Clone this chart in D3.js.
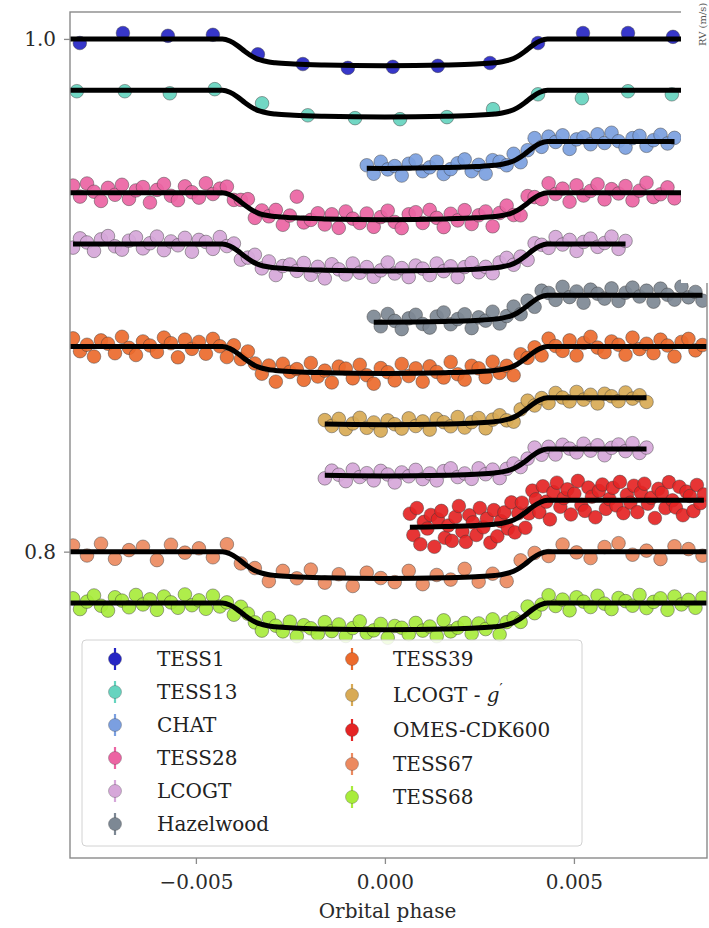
<!DOCTYPE html>
<html><head><meta charset="utf-8">
<script src="https://cdn.jsdelivr.net/npm/d3@7"></script>
<style>
html,body{margin:0;padding:0;background:#fff;}
svg{display:block;font-family:"DejaVu Serif",serif;}
</style></head><body>
<svg id="chart" width="709" height="928"></svg>
<script>
// ---------- data: phase-folded light curves (relative flux in ppt, stacked with offsets) ----------
const instruments = ["TESS1","TESS13","CHAT","TESS28","LCOGT","Hazelwood","TESS39","LCOGT - g'","OMES-CDK600","TESS67","TESS68"];
const instrumentColors = ["#2626c4","#66d4bf","#7b9fe0","#ec64a3","#d6a7d9","#7d8894","#ec6a2c","#d8aa55","#e52424","#ec8a60","#a8ec3c"];

// stacked series from top to bottom
const seriesInstrument = ["TESS1","TESS13","CHAT","TESS28","LCOGT","Hazelwood","TESS39","LCOGT - g'","LCOGT","OMES-CDK600","TESS67","TESS68"];
const seriesOffset = [0, 0.02, 0.04, 0.06, 0.08, 0.10, 0.12, 0.14, 0.16, 0.18, 0.20, 0.22];
const seriesFullModel = [true, true, false, true, false, false, true, false, false, false, true, true];
// cadence start / step in phase for evenly sampled series (null: explicit phases)
const seriesStart = [null, null, -0.00048, -0.00825, -0.00825, -0.000295, -0.00825, -0.00159, -0.00159, 0.00066, -0.00825, -0.00825];
const seriesStep  = [null, null, 0.000185, 0.000185, 0.000185, 0.000185, 0.000185, 0.000185, 0.000185, 0.0000926, 0.00037, 0.000185];

const tess1Phase = [-0.00807, -0.00693, -0.00574, -0.00455, -0.00336, -0.00217, -0.00098, 0.00021, 0.0014, 0.00278, 0.00405, 0.00524, 0.00643, 0.00762];
const tess1Ppt = [-1.6, 2.3, 1.2, 1.6, -6.0, -9.8, -11.3, -10.9, -10.5, -9.4, -1.6, 2.3, 2.3, 0.8];
const tess13Phase = [-0.00815, -0.00688, -0.00569, -0.0045, -0.00325, -0.00204, -0.00079, 0.0004, 0.00164, 0.00286, 0.00405, 0.00521, 0.00643, 0.00759];
const tess13Ppt = [-0.4, -0.4, -1.2, 0.4, -5.1, -9.8, -10.9, -11.3, -10.5, -7.4, -1.6, -3.1, -0.4, -1.6];
const chatPpt = [-9.3, -12.6, -7.9, -10.9, -9.6, -13.3, -8.7, -7.4, -11.6, -10.1, -7.9, -12.7, -10.8, -8.5, -7.0, -11.6, -9.1, -12.6, -7.3, -7.9, -9.3, -4.8, -8.1, -3.4, 1.3, -2.1, 1.9, -0.2, 2.4, -2.9, 0.8, 1.6, -1.1, 2.8, -0.6, 3.4, 0.1, -2.4, 1.3, 2.2, -1.7, 0.5, 2.6, -0.8, 1.4];
const tess28Ppt = [2.8, -1.5, 3.6, 0.4, -3.2, 1.9, -0.8, 3.1, -2.4, 0.9, 2.2, -3.8, 1.1, 3.4, -1.2, -2.9, 2.5, 0.2, -1.9, 3.7, -0.5, 1.6, 2.4, -2.8, -2.8, -2.5, -9.8, -6.9, -9.2, -6.7, -12.5, -8.9, -1.5, -11.6, -10.6, -8.0, -12.4, -8.4, -13.7, -7.3, -10.1, -11.8, -8.1, -13.3, -9.5, -7.0, -11.4, -13.8, -8.4, -7.6, -11.8, -6.7, -9.8, -13.4, -8.2, -10.8, -6.8, -12.2, -8.8, -7.3, -13.1, -7.9, -5.0, -8.7, -8.8, -1.3, -1.7, -2.5, 3.7, -0.5, 1.6, -3.5, 2.9, -1.1, 0.7, 3.3, -2.6, 1.4, -0.3, 2.6, -3.0, 0.8, 3.9, -1.7, -0.6, 2.1, -2.2];
const lcogtPpt = [-1.4, 2.2, 0.6, -2.7, 1.8, 3.1, -0.9, -2.2, 1.3, 2.6, -1.7, 0.3, 2.9, -2.4, 1.0, -0.5, 2.4, -3.0, 1.6, 0.8, -1.9, 2.7, -0.8, 0.2, -6.1, -5.3, -4.2, -9.5, -6.8, -12.1, -8.6, -8.0, -10.5, -7.4, -12.0, -8.9, -13.4, -7.9, -9.9, -11.9, -7.6, -11.2, -9.0, -12.8, -10.3, -7.2, -11.5, -9.4, -12.9, -8.4, -9.6, -12.1, -7.6, -10.6, -8.7, -12.9, -9.0, -7.4, -11.0, -8.9, -11.4, -7.2, -5.4, -8.1, -4.9, -6.2, 0.3, -0.3, -1.5, 2.7, -0.2, 1.6, -2.7, 0.8, 2.1, -1.1, 0.4, 2.9, -1.9, 1.2];
const hazelwoodPpt = [-8.4, -12.1, -7.3, -10.0, -13.2, -9.0, -7.6, -11.2, -12.6, -8.3, -6.7, -11.3, -9.3, -7.4, -12.8, -8.6, -9.9, -6.4, -11.0, -8.1, -4.4, -7.4, -2.1, -4.5, 1.8, 0.9, -1.8, 3.3, -0.7, 1.5, -2.9, 2.2, 0.6, -1.3, 2.7, -2.2, 1.0, 3.0, -0.5, 1.8, -2.5, 2.6, 0.2, -1.7, 3.4, -0.8, 1.3, -2.1];
const tess39Ppt = [3.2, -1.8, 0.7, -3.9, 2.4, 1.1, -2.6, 3.8, -0.5, -3.3, 2.0, 0.4, -2.1, 3.5, 1.3, -4.2, 2.7, -0.9, 1.8, -2.8, 3.0, 0.1, -4.1, 0.5, -4.9, -1.9, -6.6, -10.6, -7.4, -13.7, -6.7, -9.9, -8.8, -13.0, -6.4, -11.7, -9.4, -14.0, -7.8, -8.6, -12.4, -7.1, -11.2, -14.5, -8.4, -10.0, -13.2, -6.8, -11.5, -8.5, -13.7, -7.7, -9.9, -12.1, -6.0, -10.8, -12.9, -7.5, -8.5, -12.0, -5.9, -10.3, -7.5, -11.2, -3.0, -4.4, -0.3, -3.5, 3.1, 0.2, -1.7, 2.4, -3.5, 1.4, 3.8, -0.4, -2.2, 2.0, 0.7, -3.2, 3.5, -1.0, 1.1, -2.6, 2.7, 0.4, -3.9, 1.8, 3.0, -1.5, 0.6];
const gPpt = [-8.7, -11.0, -8.2, -12.2, -10.0, -7.8, -11.7, -9.6, -12.8, -8.8, -10.3, -12.0, -8.0, -11.0, -9.2, -12.4, -8.2, -9.5, -11.1, -7.5, -11.6, -9.5, -7.9, -11.9, -8.5, -6.8, -8.8, -9.3, -4.5, -1.1, -3.0, -0.1, -2.0, 1.9, 0.1, -1.4, 2.3, -0.7, 1.2, -2.2, 1.6, 0.6, -1.3, 2.1, -0.3, 1.0, -1.6];
const lcogt2Ppt = [-11.4, -8.4, -10.0, -12.5, -8.0, -10.9, -9.4, -12.2, -8.5, -9.9, -13.0, -9.1, -10.6, -8.1, -11.7, -9.5, -12.2, -8.6, -7.5, -10.9, -9.5, -11.6, -7.5, -9.8, -8.0, -11.3, -7.7, -5.6, -7.0, -3.7, 0.6, -2.2, 0.9, -2.1, 1.7, 0.2, -1.3, 2.1, -0.6, 1.5, -2.4, 0.5, 1.8, -0.8, 2.3, -1.5, 0.6];
const omesPpt = [-5.2, -13.5, -3.0, -17.1, -8.4, -11.0, -5.7, -18.1, -7.4, -4.1, -14.6, -9.8, -15.8, -6.5, -2.2, -12.1, -16.2, -5.8, -8.6, -13.5, -3.0, -10.5, -7.1, -16.5, -3.8, -14.0, -8.1, -4.7, -11.0, -0.8, -12.5, -5.0, -0.9, -10.7, -5.1, 3.8, 0.4, -4.6, 5.5, -0.5, -7.4, 3.2, 6.9, -2.5, 0.9, 4.3, -5.5, 2.6, 7.6, -1.8, -4.1, 5.0, 1.4, -6.6, 3.7, 6.2, -3.3, 0.5, 4.9, -2.0, 7.2, -5.0, 2.2, -0.9, 5.7, -4.6, 3.0, 6.5, -1.3, 1.0, -6.9, 4.5, 2.9, -3.0, 7.1, 0.0, -2.8, 5.3, -5.8, 3.4, 1.7, -4.2, 6.0, -1.1, 2.3];
const tess67Ppt = [2.4, -1.5, 3.1, -2.8, 0.6, 1.9, -3.3, 2.7, -0.4, 1.3, -2.2, 2.9, -4.6, -6.4, -11.5, -7.5, -10.4, -7.0, -12.1, -8.8, -13.4, -8.2, -10.3, -11.9, -7.5, -12.7, -9.1, -10.9, -6.7, -11.7, -8.6, -11.5, -3.4, -0.5, -1.7, 2.8, -0.3, -2.5, 1.8, 3.3, -1.2, 0.4, -2.9, 2.1, 1.0, -1.6];
const tess68Ppt = [1.8, -2.4, 0.5, 2.9, -1.1, -3.0, 2.2, 0.9, -1.7, 3.1, -0.6, 1.4, -2.7, 2.5, 0.2, -1.9, 3.3, -0.9, 1.0, -2.3, 2.8, -1.4, 0.2, -4.6, -1.5, -4.2, -7.6, -10.8, -5.9, -8.9, -11.1, -7.3, -13.0, -8.7, -9.9, -12.1, -7.5, -11.0, -8.4, -12.9, -9.8, -7.2, -11.8, -10.7, -8.2, -13.6, -9.0, -9.7, -12.2, -7.8, -10.8, -9.2, -13.0, -6.8, -11.1, -9.7, -7.8, -12.0, -8.0, -10.2, -6.4, -12.3, -7.5, -5.9, -7.4, -1.4, -4.0, -0.6, 3.0, -1.2, 1.3, -2.9, 2.2, 0.5, -1.6, 2.8, -0.3, -2.4, 1.9, 0.7, -1.1, 3.1, -2.0, 0.4, 1.8, -2.7, 2.5, -0.6, 1.2, -1.9, 2.0];

const seriesPpt = [tess1Ppt, tess13Ppt, chatPpt, tess28Ppt, lcogtPpt, hazelwoodPpt, tess39Ppt, gPpt, lcogt2Ppt, omesPpt, tess67Ppt, tess68Ppt];
const seriesPhase = [tess1Phase, tess13Phase];

// transit model (ppt) shared by all instruments
const modelPhase = [-0.0086, -0.0043, -0.0041, -0.0039, -0.0037, -0.0035, -0.0033, -0.0031, -0.0029, -0.0024, -0.0016, 0, 0.0016, 0.0024, 0.0029, 0.0031, 0.0033, 0.0035, 0.0037, 0.0039, 0.0041, 0.0043, 0.0086];
const modelPpt = [0, 0, -0.8, -2.6, -4.9, -6.9, -8.2, -8.9, -9.3, -9.8, -10.2, -10.5, -10.2, -9.8, -9.3, -8.9, -8.2, -6.9, -4.9, -2.6, -0.8, 0, 0];

const xTicks = [-0.005, 0, 0.005];
const yTicks = [0.8, 1.0];

// ---------- layout ----------
const W = 709, H = 928;
const plot = {left: 70, right: 707, top: 12, bottom: 858};
const svg = d3.select("#chart");
const x = d3.scaleLinear().domain([-0.00833, 0.00852]).range([plot.left, plot.right]);
const y = d3.scaleLinear().domain([0.6805, 1.0105]).range([plot.bottom, plot.top]);
const colorOf = d3.scaleOrdinal().domain(instruments).range(instrumentColors);
const fluxOf = (ppt, off) => 1 + ppt / 1000 - off;

const defs = svg.append("defs");
defs.append("clipPath").attr("id", "plotclip").append("rect")
  .attr("x", plot.left).attr("y", plot.top)
  .attr("width", plot.right - plot.left).attr("height", plot.bottom - plot.top);

const series = seriesInstrument.map((name, s) => {
  const vals = seriesPpt[s];
  const pts = vals.map((v, i) => ({
    phase: seriesStart[s] === null ? seriesPhase[s][i] : seriesStart[s] + i * seriesStep[s],
    ppt: v
  }));
  return {name, color: colorOf(name), offset: seriesOffset[s], full: seriesFullModel[s], pts};
});

const gPlot = svg.append("g").attr("clip-path", "url(#plotclip)");
const model = modelPhase.map((p, k) => [p, modelPpt[k]]);

series.forEach((s, si) => {
  const g = gPlot.append("g");
  g.selectAll("circle").data(s.pts).join("circle")
    .attr("cx", d => x(d.phase))
    .attr("cy", d => y(fluxOf(d.ppt, s.offset)))
    .attr("r", 6.8)
    .attr("fill", s.color)
    .attr("fill-opacity", 0.92)
    .attr("stroke", "#3a3a3a")
    .attr("stroke-opacity", 0.45)
    .attr("stroke-width", 1);

  const lo = s.full ? x.domain()[0] : d3.min(s.pts, d => d.phase);
  const hi = s.full ? x.domain()[1] : d3.max(s.pts, d => d.phase);
  defs.append("clipPath").attr("id", "mclip" + si).append("rect")
    .attr("x", x(lo)).attr("y", 0).attr("width", x(hi) - x(lo)).attr("height", H);
  g.append("path").datum(model)
    .attr("clip-path", "url(#mclip" + si + ")")
    .attr("d", d3.line().x(d => x(d[0])).y(d => y(fluxOf(d[1], s.offset))).curve(d3.curveMonotoneX))
    .attr("fill", "none").attr("stroke", "#000").attr("stroke-width", 5);
});

// frame
svg.append("rect").attr("x", plot.left).attr("y", plot.top)
  .attr("width", plot.right - plot.left).attr("height", plot.bottom - plot.top)
  .attr("fill", "none").attr("stroke", "#8a8a8a").attr("stroke-width", 1.4);

// axes
const fmtX = d3.format(".3f");
const ax = svg.append("g").attr("transform", `translate(0,${plot.bottom})`)
  .call(d3.axisBottom(x).tickValues(xTicks).tickFormat(fmtX).tickSize(6).tickPadding(11));
const ay = svg.append("g").attr("transform", `translate(${plot.left},0)`)
  .call(d3.axisLeft(y).tickValues(yTicks).tickFormat(d3.format(".1f")).tickSize(6).tickPadding(8));
[ax, ay].forEach(a => {
  a.select(".domain").remove();
  a.selectAll(".tick line").attr("stroke", "#8a8a8a").attr("stroke-width", 1.3);
  a.selectAll(".tick text").attr("fill", "#2a2a2a").attr("font-size", 20).attr("font-family", "DejaVu Serif");
});

svg.append("text").attr("x", (plot.left + plot.right) / 2 - 1).attr("y", 918)
  .attr("text-anchor", "middle").attr("font-size", 20).attr("fill", "#2a2a2a")
  .text("Orbital phase");

// legend
const leg = svg.append("g");
leg.append("rect").attr("x", 82).attr("y", 640).attr("width", 500).attr("height", 206)
  .attr("rx", 4).attr("fill", "#fff").attr("fill-opacity", 0.85)
  .attr("stroke", "#d2d2d2").attr("stroke-width", 1);
const colRows = [[659, 692, 725, 758, 791, 824], [659, 695, 730, 764, 797]];
const colX = [[115, 157], [352, 393]];
instruments.forEach((name, i) => {
  const c = i < 6 ? 0 : 1, r = i < 6 ? i : i - 6;
  const cy = colRows[c][r], mx = colX[c][0], tx = colX[c][1];
  const col = colorOf(name);
  leg.append("line").attr("x1", mx).attr("x2", mx).attr("y1", cy - 11).attr("y2", cy + 11)
    .attr("stroke", col).attr("stroke-width", 2.2);
  leg.append("circle").attr("cx", mx).attr("cy", cy).attr("r", 6.5)
    .attr("fill", col).attr("stroke", "#3a3a3a").attr("stroke-opacity", 0.3);
  const t = leg.append("text").attr("x", tx).attr("y", cy + 7).attr("font-size", 20).attr("fill", "#222");
  if (name === "LCOGT - g'") {
    t.append("tspan").text("LCOGT - ");
    t.append("tspan").attr("font-style", "italic").text("g");
    t.append("tspan").attr("font-size", 14).attr("dy", -8).text("′");
  } else {
    t.text(name);
  }
});

// neighbouring panel overlapping the top-right corner
svg.append("rect").attr("x", 681).attr("y", 0).attr("width", W - 681).attr("height", 283).attr("fill", "#fff");
svg.append("text").attr("transform", "translate(706,46) rotate(-90)")
  .attr("font-size", 10).attr("fill", "#555").text("RV (m/s)");
</script>
</body></html>
